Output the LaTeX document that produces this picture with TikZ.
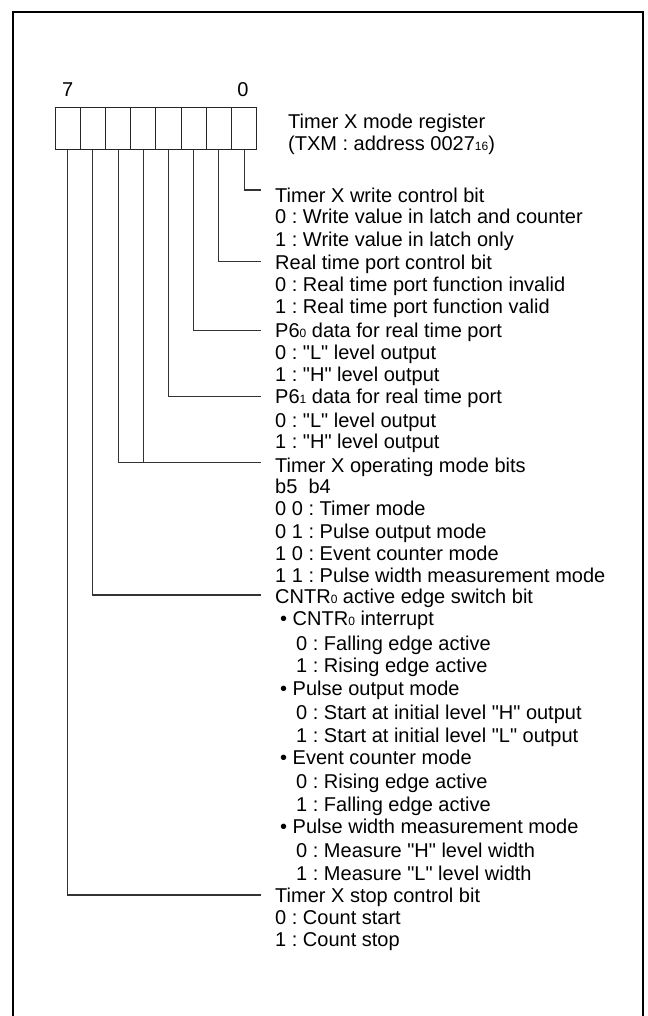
\documentclass[tikz,border=0pt]{standalone}
\usepackage{fontspec}
\setmainfont{Liberation Sans}[Ligatures=TeXOff]
\frenchspacing
\newcommand\sbs[1]{{\fontsize{12bp}{12bp}\selectfont #1}}
\newcommand\dq{\char"22\relax}
\newcommand\txtline[4]{\node[lbl] (#1) at (#2,#3) {#4};}
\begin{document}
\begin{tikzpicture}[x=1bp,y=-1bp,
  lbl/.style={anchor=west,inner sep=0pt,text height=14.5bp,text depth=0pt,font=\fontsize{20bp}{22bp}\selectfont},
  cell/.style={draw=black!85,line width=1bp,minimum width=25.2bp,minimum height=41.6bp,inner sep=0pt},
  conn/.style={draw=black!80,line width=1.1bp},
  frame/.style={line width=2.6bp}]
\useasboundingbox (0,0) rectangle (648,1016);
\draw[frame] (13,1018) -- (13,12) -- (643,12) -- (643,1018);
% register cells
\foreach \i in {0,...,7}
  \node[cell] (c\i) at ({256.7-25.2*(\i+0.5)},128.5) {};
\node[lbl,anchor=center] (n7) at (67.7,89) {7};
\node[lbl,anchor=center] (n0) at (243,89) {0};
\txtline{title1}{288}{121.7}{Timer X mode register}
\txtline{title2}{288}{143.3}{(TXM : address 0027\sbs{16})}
% connector ends
\coordinate (e0) at (261,190);
\coordinate (e1) at (261,261.7);
\coordinate (e2) at (261,330.7);
\coordinate (e3) at (261,396.7);
\coordinate (e54) at (261,462.7);
\coordinate (e6) at (261,595);
\coordinate (e7) at (261,895);
\draw[conn] (c0.south) |- (e0);
\draw[conn] (c1.south) |- (e1);
\draw[conn] (c2.south) |- (e2);
\draw[conn] (c3.south) |- (e3);
\draw[conn] (c5.south) |- (e54);
\draw[conn] (c4.south) -- (c4.south |- e54);
\draw[conn] (c6.south) |- (e6);
\draw[conn] (c7.south) |- (e7);
% descriptions
\txtline{a1}{275}{195}{Timer X write control bit}
\txtline{a2}{275}{216.7}{0 : Write value in latch and counter}
\txtline{a3}{275}{239.3}{1 : Write value in latch only}
\txtline{b1}{275}{262.3}{Real time port control bit}
\txtline{b2}{275}{284}{0 : Real time port function invalid}
\txtline{b3}{275}{306}{1 : Real time port function valid}
\txtline{d1}{275}{330.7}{P6\sbs{0} data for real time port}
\txtline{d2}{275}{352.7}{0 : \dq L\dq\ level output}
\txtline{d3}{275}{374}{1 : \dq H\dq\ level output}
\txtline{f1}{275}{396.7}{P6\sbs{1} data for real time port}
\txtline{f2}{275}{420}{0 : \dq L\dq\ level output}
\txtline{f3}{275}{441.7}{1 : \dq H\dq\ level output}
\txtline{g1}{275}{465}{Timer X operating mode bits}
\txtline{g2}{275}{486.7}{b5\ \ b4}
\txtline{g3}{275}{508.3}{0 0 : Timer mode}
\txtline{g4}{275}{531}{0 1 : Pulse output mode}
\txtline{g5}{275}{553.3}{1 0 : Event counter mode}
\txtline{g6}{275}{575}{1 1 : Pulse width measurement mode}
\txtline{h1}{275}{596.7}{CNTR\sbs{0} active edge switch bit}
\txtline{h2}{280}{618.3}{• CNTR\sbs{0} interrupt}
\txtline{h3}{296}{643.3}{0 : Falling edge active}
\txtline{h4}{296}{665.7}{1 : Rising edge active}
\txtline{h5}{280}{688.3}{• Pulse output mode}
\txtline{h6}{296}{712.7}{0 : Start at initial level \dq H\dq\ output}
\txtline{h7}{296}{735}{1 : Start at initial level \dq L\dq\ output}
\txtline{h8}{280}{757.3}{• Event counter mode}
\txtline{h9}{296}{781.7}{0 : Rising edge active}
\txtline{h10}{296}{804}{1 : Falling edge active}
\txtline{h11}{280}{826}{• Pulse width measurement mode}
\txtline{h12}{296}{850}{0 : Measure \dq H\dq\ level width}
\txtline{h13}{296}{873}{1 : Measure \dq L\dq\ level width}
\txtline{k1}{275}{895}{Timer X stop control bit}
\txtline{k2}{275}{917.7}{0 : Count start}
\txtline{k3}{275}{939.3}{1 : Count stop}
\end{tikzpicture}
\end{document}
